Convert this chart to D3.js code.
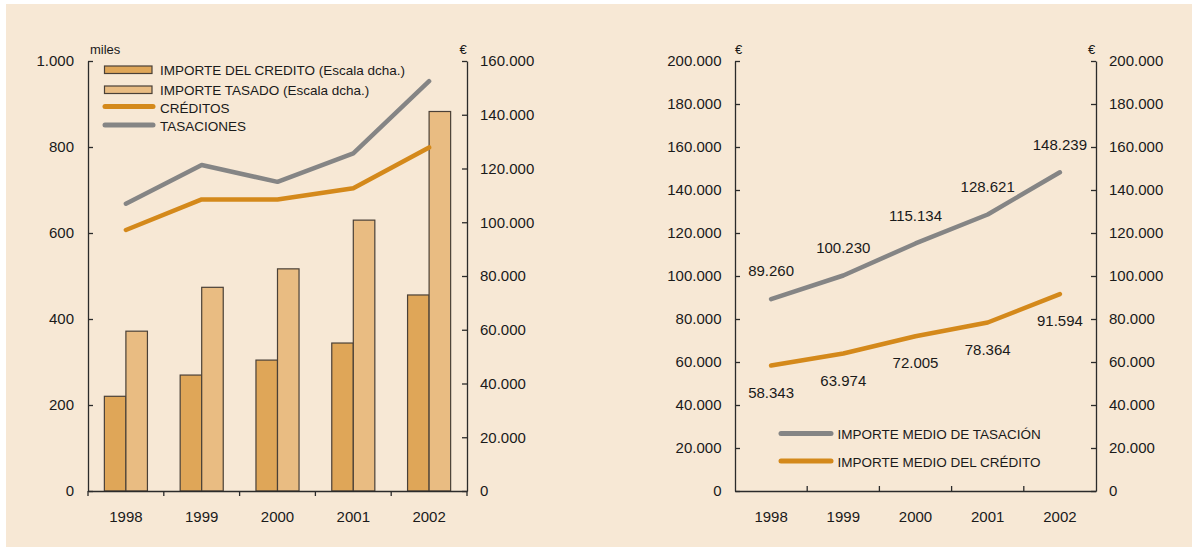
<!DOCTYPE html>
<html>
<head>
<meta charset="utf-8">
<script src="https://cdn.jsdelivr.net/npm/d3@7"></script>
<style>
  body { margin: 0; background: #fff; }
  svg { display: block; font-family: "Liberation Sans", Arial, sans-serif; }
  .axis path, .axis line { stroke: #2b2b2b; stroke-width: 1.3; }
  .axis text { font-size: 15px; fill: #1a1a1a; }
</style>
</head>
<body>
<div class="App"></div>
<script>
// data
var years = ['1998', '1999', '2000', '2001', '2002'];
// left chart: bars on right scale, lines (miles) on left scale
var importeCredito = [35240, 43140, 48710, 55060, 72940];
var importeTasado = [59470, 75790, 82660, 100790, 141210];
var creditos = [607, 678, 678, 704, 799];
var tasaciones = [668, 758, 719, 785, 953];
// right chart: average amounts
var medioTasacion = [89260, 100230, 115134, 128621, 148239];
var medioCredito = [58343, 63974, 72005, 78364, 91594];

var leftTicks = [0, 200, 400, 600, 800, 1000];
var rightTicks = [0, 20000, 40000, 60000, 80000, 100000, 120000, 140000, 160000];
var avgTicks = [0, 20000, 40000, 60000, 80000, 100000, 120000, 140000, 160000, 180000, 200000];

var colDark = '#dfa658', colLight = '#e9bc82', colOrange = '#d4891b', colGray = '#858585';

var es = d3.formatLocale({decimal: ',', thousands: '.', grouping: [3], currency: ['', '€']});
var fmt = es.format(',');

var svg = d3.select('.App').append('svg').attr('width', 1192).attr('height', 547);

svg.append('rect').attr('x', 6).attr('y', 4).attr('width', 1186).attr('height', 543).attr('fill', '#f7e8d5');

var yTop = 61, yBottom = 491;

// ---------- left chart ----------
var x = d3.scaleBand().domain(years).range([88, 467]);
var xs = d3.scaleBand().domain(['credito', 'tasado']).range([0, x.bandwidth()]).paddingOuter(0.76);
var yL = d3.scaleLinear().domain([0, 1000]).range([yBottom, yTop]);
var yR = d3.scaleLinear().domain([0, 160000]).range([yBottom, yTop]);

var left = svg.append('g');

var groups = left.selectAll('g.year')
    .data(years)
    .enter()
    .append('g')
    .attr('transform', function(d) { return 'translate(' + x(d) + ',0)'; });

groups.append('rect')
    .attr('x', xs('credito'))
    .attr('y', function(d, i) { return yR(importeCredito[i]); })
    .attr('width', xs.bandwidth())
    .attr('height', function(d, i) { return yBottom - yR(importeCredito[i]); })
    .attr('fill', colDark)
    .attr('stroke', '#4a4037')
    .attr('stroke-width', 1.2);

groups.append('rect')
    .attr('x', xs('tasado'))
    .attr('y', function(d, i) { return yR(importeTasado[i]); })
    .attr('width', xs.bandwidth())
    .attr('height', function(d, i) { return yBottom - yR(importeTasado[i]); })
    .attr('fill', colLight)
    .attr('stroke', '#4a4037')
    .attr('stroke-width', 1.2);

var lineL = d3.line()
    .x(function(d, i) { return x(years[i]) + x.bandwidth() / 2; })
    .y(function(d) { return yL(d); });

left.append('path').datum(creditos).attr('d', lineL)
    .attr('fill', 'none').attr('stroke', colOrange).attr('stroke-width', 4.5)
    .attr('stroke-linecap', 'round').attr('stroke-linejoin', 'round');
left.append('path').datum(tasaciones).attr('d', lineL)
    .attr('fill', 'none').attr('stroke', colGray).attr('stroke-width', 4.5)
    .attr('stroke-linecap', 'round').attr('stroke-linejoin', 'round');

left.append('g').attr('class', 'axis')
    .attr('transform', 'translate(88,0)')
    .call(d3.axisLeft(yL).tickValues(leftTicks).tickFormat(fmt).tickSizeInner(-5).tickSizeOuter(0).tickPadding(14));

left.append('g').attr('class', 'axis')
    .attr('transform', 'translate(467,0)')
    .call(d3.axisRight(yR).tickValues(rightTicks).tickFormat(fmt).tickSizeInner(-5).tickSizeOuter(0).tickPadding(13));

var xAxisL = left.append('g').attr('class', 'axis')
    .attr('transform', 'translate(0,' + yBottom + ')')
    .call(d3.axisBottom(x).tickSize(0).tickPadding(20));

// ticks on the category boundaries
xAxisL.selectAll('line.bound')
    .data(d3.range(years.length + 1))
    .enter()
    .append('line')
    .attr('class', 'bound')
    .attr('x1', function(i) { return x.range()[0] + i * x.step(); })
    .attr('x2', function(i) { return x.range()[0] + i * x.step(); })
    .attr('y1', 0).attr('y2', 5);

left.append('text').attr('x', 90).attr('y', 53.5).attr('font-size', 13).attr('fill', '#1a1a1a').text('miles');
left.append('text').attr('x', 463).attr('y', 53.5).attr('font-size', 13).attr('fill', '#1a1a1a').attr('text-anchor', 'middle').text('€');

// legend
var legL = left.append('g').attr('font-size', 13.5).attr('fill', '#1a1a1a');
[['IMPORTE DEL CREDITO (Escala dcha.)', 'rect', colDark, 70],
 ['IMPORTE TASADO (Escala dcha.)', 'rect', colLight, 90],
 ['CRÉDITOS', 'line', colOrange, 108],
 ['TASACIONES', 'line', colGray, 126.5]].forEach(function(it) {
  if (it[1] === 'rect') {
    legL.append('rect').attr('x', 104.5).attr('y', it[3] - 4).attr('width', 47.5).attr('height', 7.5)
        .attr('fill', it[2]).attr('stroke', '#4a4037').attr('stroke-width', 1.2);
  } else {
    legL.append('line').attr('x1', 105).attr('x2', 153).attr('y1', it[3] - 1.5).attr('y2', it[3] - 1.5)
        .attr('stroke', it[2]).attr('stroke-width', 5).attr('stroke-linecap', 'round');
  }
  legL.append('text').attr('x', 160).attr('y', it[3]).attr('dy', '0.35em').text(it[0]);
});

// ---------- right chart ----------
var x2 = d3.scaleBand().domain(years).range([735, 1096]);
var y2 = d3.scaleLinear().domain([0, 200000]).range([yBottom, yTop]);

var right = svg.append('g');

right.append('g').attr('class', 'axis')
    .attr('transform', 'translate(735,0)')
    .call(d3.axisLeft(y2).tickValues(avgTicks).tickFormat(fmt).tickSizeInner(-5).tickSizeOuter(0).tickPadding(13.5));

right.append('g').attr('class', 'axis')
    .attr('transform', 'translate(1096,0)')
    .call(d3.axisRight(y2).tickValues(avgTicks).tickFormat(fmt).tickSizeInner(-5).tickSizeOuter(0).tickPadding(13));

var xAxisR = right.append('g').attr('class', 'axis')
    .attr('transform', 'translate(0,' + yBottom + ')')
    .call(d3.axisBottom(x2).tickSize(0).tickPadding(20));

xAxisR.selectAll('line.bound')
    .data(d3.range(1, years.length))
    .enter()
    .append('line')
    .attr('class', 'bound')
    .attr('x1', function(i) { return x2.range()[0] + i * x2.step(); })
    .attr('x2', function(i) { return x2.range()[0] + i * x2.step(); })
    .attr('y1', 0).attr('y2', -5);

var lineR = d3.line()
    .x(function(d, i) { return x2(years[i]) + x2.bandwidth() / 2; })
    .y(function(d) { return y2(d); });

right.append('path').datum(medioCredito).attr('d', lineR)
    .attr('fill', 'none').attr('stroke', colOrange).attr('stroke-width', 4.5)
    .attr('stroke-linecap', 'round').attr('stroke-linejoin', 'round');
right.append('path').datum(medioTasacion).attr('d', lineR)
    .attr('fill', 'none').attr('stroke', colGray).attr('stroke-width', 4.5)
    .attr('stroke-linecap', 'round').attr('stroke-linejoin', 'round');

right.selectAll('text.lblT')
    .data(medioTasacion)
    .enter()
    .append('text')
    .attr('class', 'lblT')
    .attr('x', function(d, i) { return x2(years[i]) + x2.bandwidth() / 2; })
    .attr('y', function(d) { return y2(d) - 28; })
    .attr('dy', '0.35em')
    .attr('text-anchor', 'middle')
    .attr('font-size', 15)
    .attr('fill', '#1a1a1a')
    .text(fmt);

right.selectAll('text.lblC')
    .data(medioCredito)
    .enter()
    .append('text')
    .attr('class', 'lblC')
    .attr('x', function(d, i) { return x2(years[i]) + x2.bandwidth() / 2; })
    .attr('y', function(d) { return y2(d) + 27; })
    .attr('dy', '0.35em')
    .attr('text-anchor', 'middle')
    .attr('font-size', 15)
    .attr('fill', '#1a1a1a')
    .text(fmt);

right.append('text').attr('x', 738.5).attr('y', 53.5).attr('font-size', 13).attr('fill', '#1a1a1a').attr('text-anchor', 'middle').text('€');
right.append('text').attr('x', 1091.5).attr('y', 53.5).attr('font-size', 13).attr('fill', '#1a1a1a').attr('text-anchor', 'middle').text('€');

var legR = right.append('g').attr('font-size', 13.5).attr('fill', '#1a1a1a');
[['IMPORTE MEDIO DE TASACIÓN', colGray, 434.5],
 ['IMPORTE MEDIO DEL CRÉDITO', colOrange, 462]].forEach(function(it) {
  legR.append('line').attr('x1', 781).attr('x2', 831).attr('y1', it[2] - 1).attr('y2', it[2] - 1)
      .attr('stroke', it[1]).attr('stroke-width', 5).attr('stroke-linecap', 'round');
  legR.append('text').attr('x', 837.5).attr('y', it[2]).attr('dy', '0.35em').text(it[0]);
});
</script>
</body>
</html>
